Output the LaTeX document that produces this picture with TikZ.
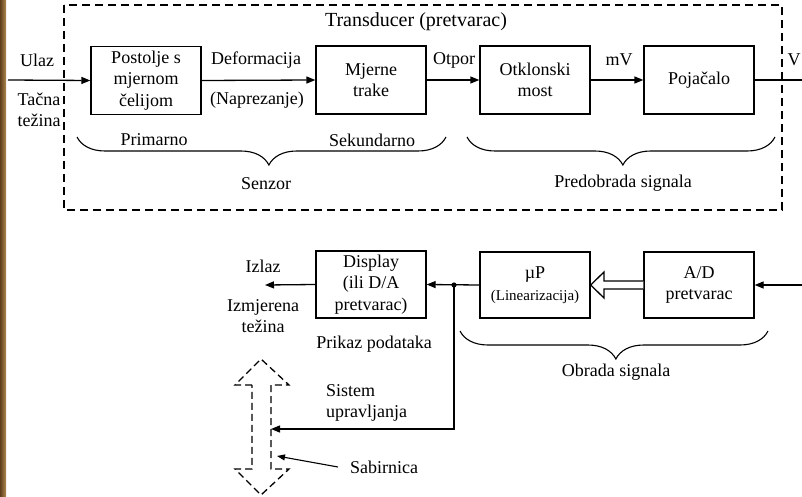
\documentclass[tikz,border=0pt]{standalone}
\usepackage{fontspec}
\setmainfont{Liberation Serif}
\usetikzlibrary{arrows.meta,decorations.pathreplacing}

\tikzset{
  blk/.style={draw, line width=1.3pt, minimum width=110pt, minimum height=68pt,
              inner sep=0pt, align=center, font=\fontsize{18}{21.5}\selectfont},
  lbl/.style={inner sep=0pt, align=center, font=\fontsize{18}{21}\selectfont},
  wire/.style={line width=1.3pt},
  arr/.style={wire, -{Triangle[length=9pt,width=7pt]}},
  brc/.style={line width=1.1pt, decorate,
              decoration={brace, mirror, amplitude=28pt}},
}

\begin{document}
\begin{tikzpicture}[x=1pt, y=-1pt]
  \useasboundingbox (0,0) rectangle (802,497);
  \fill[white] (0,0) rectangle (802,497);
  % scanned page edge on the left
  \shade[left color={rgb,255:red,95;green,62;blue,28}, right color={rgb,255:red,175;green,135;blue,80}]
        (0,0) rectangle (6,497);

  % transducer frame
  \draw[line width=1.3pt, dash pattern=on 8pt off 5pt] (64,5) rectangle (782,210);
  \node[lbl, font=\fontsize{20}{22}\selectfont] (title) at (416,22) {Transducer (pretvarac)};

  % upper chain
  \node[blk] (post) at (146,80.5) {Postolje s\\mjernom\\čelijom};
  \node[blk] (traka) at (371,80) {Mjerne\\trake};
  \node[blk] (most) at (535,80) {Otklonski\\most};
  \node[blk] (poj) at (699,80) {Pojačalo};
  \coordinate (in) at (8,80);
  \coordinate (out) at (802,80);

  \draw[arr] (in) -- (post.west);
  \draw[arr] (post.east) -- (traka.west);
  \draw[arr] (traka.east) -- (most.west);
  \draw[arr] (most.east) -- (poj.west);
  \draw[wire] (poj.east) -- (out);

  \node[lbl] (ulaz) at (37,60) {Ulaz};
  \node[lbl] (tacna) at (39,110) {Tačna\\težina};
  \node[lbl] (def) at (256,60) {Deformacija};
  \node[lbl] (napr) at (257,100) {(Naprezanje)};
  \node[lbl] (otpor) at (454,60) {Otpor};
  \node[lbl] (mv) at (619,60) {mV};
  \node[lbl] (v) at (794,60) {V};

  % braces of the upper chain
  \draw[brc, decoration={aspect=0.52}] (77,137) -- (446,137);
  \draw[brc, decoration={aspect=0.506}] (467,137) -- (775,137);
  \node[lbl] (prim) at (154,140) {Primarno};
  \node[lbl] (sek) at (372,140) {Sekundarno};
  \node[lbl] (senz) at (266,184) {Senzor};
  \node[lbl] (pred) at (623,183) {Predobrada signala};

  % lower chain
  \node[blk, minimum height=67pt] (disp) at (371,284.5) {Display\\(ili D/A\\pretvarac)};
  \node[blk, minimum height=66pt] (mup) at (535,285)
       {µP\\[1pt]{\fontsize{15}{17}\selectfont (Linearizacija)}};
  \node[blk, minimum height=66pt] (ad) at (699,285) {A/D\\pretvarac};
  \coordinate (adin) at (802,285);
  \coordinate (izl) at (265,285);
  \coordinate (jn) at (454,285);
  \coordinate (bend) at (454,429);
  \coordinate (busr) at (271,429);

  \draw[arr] (adin) -- (ad.east);
  % wide hollow arrow A/D -> uP
  \draw[wire, fill=white, line join=miter]
       (ad.west |- 0,281) -- (604,281) -- (604,272) -- (mup.east) -- (604,298)
       -- (604,289) -- (ad.west |- 0,289);
  \draw[arr] (mup.west) -- (disp.east);
  \fill (jn) circle (2.6pt);
  \draw[arr] (disp.west) -- (izl);
  \draw[arr] (jn) -- (bend) -- (busr);

  \node[lbl] (izlaz) at (263,266) {Izlaz};
  \node[lbl] (izmj) at (263,316) {Izmjerena\\težina};
  \node[lbl] (prikaz) at (374,344) {Prikaz podataka};
  \draw[brc, decoration={aspect=0.506}] (460,331) -- (768,331);
  \node[lbl] (obrada) at (616,372) {Obrada signala};
  \node[lbl, align=left, anchor=west] (sist) at (326,403) {Sistem\\upravljanja};

  % dashed bus arrow
  \draw[line width=1.3pt, dash pattern=on 7pt off 4pt, line join=miter]
       (252,385) -- (235,385) -- (261,359) -- (289,385) -- (271,385) -- (271,469)
       -- (289,469) -- (261,495) -- (235,469) -- (252,469) -- cycle;
  \node[lbl, anchor=west] (sab) at (350,467) {Sabirnica};
  \coordinate (bust) at (277,456);
  \draw[line width=1.1pt, -{Triangle[length=8pt,width=6pt]}]
       ([xshift=-12pt]sab.west) -- (bust);
\end{tikzpicture}
\end{document}
